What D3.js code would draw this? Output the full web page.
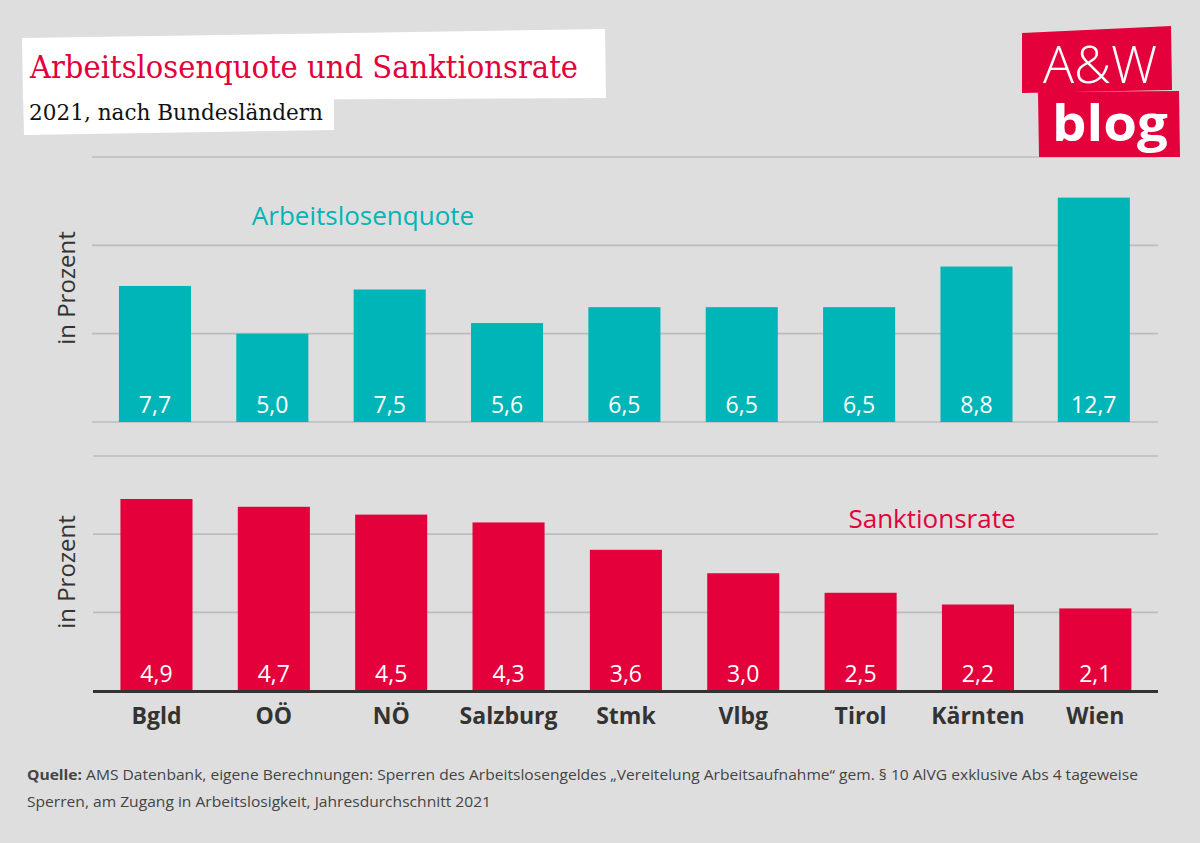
<!DOCTYPE html>
<html>
<head>
<meta charset="utf-8">
<script src="https://cdn.jsdelivr.net/npm/d3@7"></script>
<style>
  html, body { margin: 0; padding: 0; background: #dedede; }
  svg { display: block; }
</style>
</head>
<body>
<svg id="chart" width="1200" height="843"></svg>
<script>
// ---- data ----
const categories = ["Bgld", "OÖ", "NÖ", "Salzburg", "Stmk", "Vlbg", "Tirol", "Kärnten", "Wien"];
const arbeitslosenquote = [7.7, 5.0, 7.5, 5.6, 6.5, 6.5, 6.5, 8.8, 12.7];
const sanktionsrate = [4.9, 4.7, 4.5, 4.3, 3.6, 3.0, 2.5, 2.2, 2.1];
const topTicks = [0, 5, 10, 15];
const bottomTicks = [0, 2, 4, 6];
const titleText = "Arbeitslosenquote und Sanktionsrate";
const subtitleText = "2021, nach Bundesländern";
const sourceLines = [
  ["Quelle:", " AMS Datenbank, eigene Berechnungen: Sperren des Arbeitslosengeldes „Vereitelung Arbeitsaufnahme“ gem. § 10 AlVG exklusive Abs 4 tageweise"],
  ["", "Sperren, am Zugang in Arbeitslosigkeit, Jahresdurchschnitt 2021"]
];

const TEAL = "#00b5b7", RED = "#e3003b", GRID = "#bcbcbc", DARK = "#333333";
const svg = d3.select("#chart");
svg.append("rect").attr("width", 1200).attr("height", 843).attr("fill", "#dedede");

const fmt = v => d3.format(".1f")(v).replace(".", ",");

// ---- scales ----
const xTop = d3.scaleBand().domain(categories).range([96.3, 1152.5]).paddingInner(0.386).paddingOuter(0.193);
const xBot = d3.scaleBand().domain(categories).range([97.8, 1154]).paddingInner(0.386).paddingOuter(0.193);
const yTop = d3.scaleLinear().domain([0, 15]).range([422, 157]);
const yBot = d3.scaleLinear().domain([0, 6]).range([690.5, 456]);

// ---- gridlines ----
svg.append("g").selectAll("line").data(topTicks).join("line")
  .attr("x1", 92).attr("x2", 1158)
  .attr("y1", d => yTop(d)).attr("y2", d => yTop(d))
  .attr("stroke", GRID).attr("stroke-width", 1.6);
svg.append("g").selectAll("line").data(bottomTicks.filter(d => d > 0)).join("line")
  .attr("x1", 93).attr("x2", 1158)
  .attr("y1", d => yBot(d)).attr("y2", d => yBot(d))
  .attr("stroke", GRID).attr("stroke-width", 1.6);

// ---- bars top ----
svg.append("g").selectAll("rect").data(arbeitslosenquote).join("rect")
  .attr("x", (d, i) => xTop(categories[i]))
  .attr("width", xTop.bandwidth())
  .attr("y", d => yTop(d))
  .attr("height", d => yTop(0) - yTop(d))
  .attr("fill", TEAL);
svg.append("g").selectAll("text").data(arbeitslosenquote).join("text")
  .attr("x", (d, i) => xTop(categories[i]) + xTop.bandwidth() / 2)
  .attr("y", yTop(0) - 9)
  .attr("text-anchor", "middle")
  .attr("font-family", "'Open Sans', sans-serif").attr("font-weight", 400)
  .attr("font-size", 23).attr("fill", "#fff")
  .text(d => fmt(d));

// ---- bars bottom ----
svg.append("g").selectAll("rect").data(sanktionsrate).join("rect")
  .attr("x", (d, i) => xBot(categories[i]))
  .attr("width", xBot.bandwidth())
  .attr("y", d => yBot(d))
  .attr("height", d => yBot(0) - yBot(d))
  .attr("fill", RED);
svg.append("g").selectAll("text").data(sanktionsrate).join("text")
  .attr("x", (d, i) => xBot(categories[i]) + xBot.bandwidth() / 2)
  .attr("y", yBot(0) - 9)
  .attr("text-anchor", "middle")
  .attr("font-family", "'Open Sans', sans-serif").attr("font-weight", 400)
  .attr("font-size", 23).attr("fill", "#fff")
  .text(d => fmt(d));

// baseline bottom
svg.append("line").attr("x1", 93).attr("x2", 1158)
  .attr("y1", yBot(0) + 1).attr("y2", yBot(0) + 1)
  .attr("stroke", DARK).attr("stroke-width", 3);

// category axis
const xAxis = d3.axisBottom(xBot).tickSize(0).tickPadding(0);
const gx = svg.append("g").attr("transform", `translate(0,${yBot(0)})`).call(xAxis);
gx.select(".domain").remove();
gx.selectAll("text")
  .attr("y", 33.5).attr("dy", null)
  .attr("font-family", "'Open Sans', sans-serif").attr("font-weight", 700)
  .attr("font-size", 23).attr("fill", DARK);

// y axis titles
[[yTop, 288], [yBot, 572]].forEach(([s, cy]) => {
  svg.append("text")
    .attr("transform", `translate(75,${cy}) rotate(-90)`)
    .attr("text-anchor", "middle")
    .attr("font-family", "'Open Sans', sans-serif").attr("font-weight", 400)
    .attr("font-size", 24).attr("fill", DARK)
    .text("in Prozent");
});

// series labels
svg.append("text").attr("x", 363).attr("y", 225).attr("text-anchor", "middle")
  .attr("font-family", "'Open Sans', sans-serif").attr("font-size", 26).attr("fill", TEAL)
  .text("Arbeitslosenquote");
svg.append("text").attr("x", 932).attr("y", 528).attr("text-anchor", "middle")
  .attr("font-family", "'Open Sans', sans-serif").attr("font-size", 26).attr("fill", RED)
  .text("Sanktionsrate");

// ---- title boxes ----
svg.append("polygon").attr("points", "22,38 605,29 606,98 23,101").attr("fill", "#fff");
svg.append("polygon").attr("points", "23,94 334,93 334,130 24,135").attr("fill", "#fff");
svg.append("text").attr("x", 30).attr("y", 78)
  .attr("font-family", "'DejaVu Serif', serif").attr("font-size", 31).attr("fill", RED)
  .attr("textLength", 548).attr("lengthAdjust", "spacingAndGlyphs")
  .text(titleText);
svg.append("text").attr("x", 29).attr("y", 120)
  .attr("font-family", "'DejaVu Serif', serif").attr("font-size", 22).attr("fill", "#111")
  .attr("textLength", 294).attr("lengthAdjust", "spacingAndGlyphs")
  .text(subtitleText);

// ---- logo ----
svg.append("polygon").attr("points", "1022,33 1171,26 1172,90 1022,93").attr("fill", RED);
svg.append("polygon").attr("points", "1038,92 1179,91 1180,157 1039,157").attr("fill", RED);
svg.append("text").attr("x", 1043).attr("y", 83)
  .attr("font-family", "'Open Sans', sans-serif").attr("font-weight", 300)
  .attr("font-size", 52).attr("fill", "#fff")
  .attr("textLength", 114).attr("lengthAdjust", "spacingAndGlyphs")
  .text("A&W");
svg.append("text").attr("x", 1052).attr("y", 141)
  .attr("font-family", "'Open Sans', sans-serif").attr("font-weight", 700)
  .attr("font-size", 50).attr("fill", "#fff")
  .attr("textLength", 116).attr("lengthAdjust", "spacingAndGlyphs")
  .text("blog");

// ---- source ----
const srcWidths = [1111, 464];
sourceLines.forEach((ln, i) => {
  const t = svg.append("text").attr("x", 27).attr("y", 780 + i * 27)
    .attr("font-family", "'Open Sans', sans-serif").attr("font-size", 15).attr("fill", "#444")
    .attr("textLength", srcWidths[i]).attr("lengthAdjust", "spacingAndGlyphs");
  if (ln[0]) t.append("tspan").attr("font-weight", 700).text(ln[0]);
  t.append("tspan").text(ln[1]);
});
</script>
</body>
</html>
